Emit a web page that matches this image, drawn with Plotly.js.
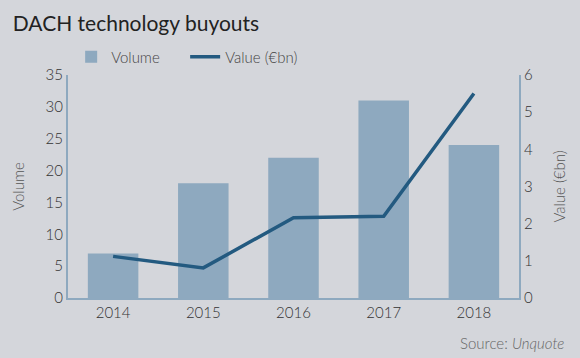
<!DOCTYPE html>
<html><head><meta charset="utf-8">
<script src="https://cdn.plot.ly/plotly-3.0.1.min.js"></script>
<style>html,body{margin:0;padding:0;background:#d4d6db;}</style>
</head><body>
<div id="chart" style="width:580px;height:358px;"></div>
<script>
const years = ['2014','2015','2016','2017','2018'];
const volume = [7, 18, 22, 31, 24];
const valueBn = [1.12, 0.81, 2.16, 2.2, 5.5];
const volumeTicks = [0,5,10,15,20,25,30,35];
const valueTicks = [0,1,2,3,4,5,6];

const font = 'Lato, "Open Sans", sans-serif';
const axisCol = '#8ea9bf';
const data = [
  {type:'bar', x:years, y:volume, name:'Volume\u00a0\u00a0\u00a0\u00a0\u00a0', marker:{color:'#8ea9bf'}, yaxis:'y'},
  {type:'scatter', mode:'lines', x:years, y:valueBn, name:'Value (€bn)', line:{color:'#235a80', width:3.5}, yaxis:'y2'}
];
const layout = {
  width:580, height:358,
  paper_bgcolor:'#d4d6db', plot_bgcolor:'#d4d6db',
  margin:{l:68, r:61, t:75, b:60},
  font:{family:font, color:'#333', size:15, weight:300},
  title:{text:'DACH technology buyouts', x:0.022, xanchor:'left', y:0.935, yanchor:'middle', font:{family:font, size:21, color:'#222', weight:400}},
  bargap:0.44,
  showlegend:true,
  legend:{orientation:'h', x:0.007, xanchor:'left', y:1.081, yanchor:'middle', font:{size:15, color:'#444', weight:300}, bgcolor:'rgba(0,0,0,0)', itemwidth:30},
  xaxis:{type:'category', showline:true, linecolor:axisCol, linewidth:2, ticks:'', showgrid:false, tickfont:{size:15, color:'#333', weight:300}},
  yaxis:{range:[0,35], tickvals:volumeTicks, showline:true, linecolor:axisCol, linewidth:2, showgrid:false, zeroline:false, ticks:'', ticklen:0,
         title:{text:'Volume', font:{size:15, color:'#555', weight:300}, standoff:17}, tickfont:{size:15, color:'#333', weight:300}},
  yaxis2:{range:[0,6], tickvals:valueTicks, overlaying:'y', side:'right', showline:true, linecolor:axisCol, linewidth:2, showgrid:false, zeroline:false,
          title:{text:'Value (€bn)', font:{size:15, color:'#555', weight:300}, standoff:22}, tickfont:{size:15, color:'#333', weight:300}},
  annotations:[{xref:'paper', yref:'paper', x:1.105, y:-0.2, xanchor:'right', yanchor:'middle', showarrow:false,
    text:'Source: <i>Unquote</i>', font:{size:15, color:'#666', weight:300}}]
};
Plotly.newPlot('chart', data, layout, {displayModeBar:false, staticPlot:true});
</script>
</body></html>
